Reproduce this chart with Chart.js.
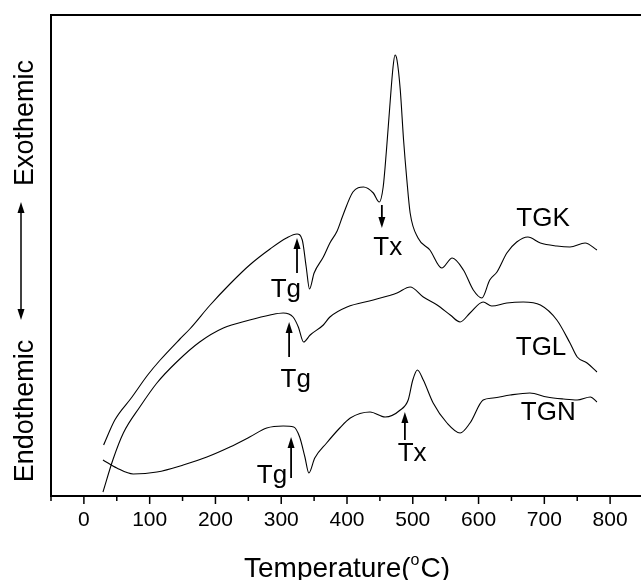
<!DOCTYPE html>
<html lang="en">
<head>
<meta charset="UTF-8">
<title>DTA curves TGK / TGL / TGN</title>
<script src="https://cdn.jsdelivr.net/npm/chart.js"></script>
<style>
  html, body { margin: 0; padding: 0; background: #fff; overflow: hidden; }
  #wrap { width: 645px; height: 580px; }
</style>
</head>
<body>
<div id="wrap"><canvas id="dta" width="645" height="580"></canvas></div>
<script>
// --- DATA ---
// signal is in arbitrary units (curves are stacked as in the figure)
const tgkTemp = [30, 47, 72, 97, 116, 146, 161, 192, 222, 252, 283, 308, 324, 332, 338, 343, 350, 364, 374, 385, 394, 409, 425, 440, 449, 455, 460, 465, 470, 473, 476, 481, 486, 491, 496, 508, 526, 544, 560, 577, 592, 605, 617, 628, 643, 658, 675, 694, 719, 739, 762, 780];
const tgkSignal = [51, 76, 98, 121, 136, 157, 167, 191, 212, 231, 247, 258, 262, 256, 229, 207, 223, 239, 253, 265, 281, 304, 309, 303, 294, 309, 346, 389, 429, 441, 436, 406, 356, 316, 283, 258, 246, 228, 238, 226, 206, 198, 216, 224, 243, 254, 259, 253, 250, 249, 253, 246];

const tglTemp = [29, 44, 60, 85, 111, 141, 176, 212, 252, 283, 303, 318, 326, 334, 344, 364, 374, 400, 440, 476, 496, 516, 537, 557, 572, 587, 607, 620, 643, 668, 694, 719, 739, 750, 765, 780];
const tglSignal = [4, 36, 63, 89, 113, 134, 154, 168, 176, 181, 183, 179, 169, 154, 161, 171, 179, 189, 196, 203, 209, 199, 191, 181, 174, 183, 194, 190, 193, 194, 191, 176, 153, 139, 133, 124];

const tgnTemp = [29, 50, 75, 111, 151, 187, 222, 252, 278, 303, 319, 328, 336, 342, 351, 369, 389, 405, 435, 458, 481, 493, 500, 507, 516, 531, 552, 572, 587, 607, 622, 648, 678, 704, 729, 750, 770, 780];
const tgnSignal = [36, 28, 22, 24, 31, 39, 49, 59, 68, 70, 69, 59, 39, 23, 38, 53, 68, 78, 84, 79, 86, 96, 116, 126, 116, 93, 73, 63, 73, 96, 98, 101, 103, 99, 97, 96, 99, 94];

const tickLabels = [0, 100, 200, 300, 400, 500, 600, 700, 800];
const minorTicks = [-50, 50, 150, 250, 350, 450, 550, 650, 750, 850];

// curve names and Tg / Tx marks, in data coordinates
const curveNames = [
  { text: 'TGK', t: 698, y: 270 },
  { text: 'TGL', t: 695, y: 141 },
  { text: 'TGN', t: 706, y: 76 }
];
const marks = [
  { text: 'Tg', t: 324, from: 223, to: 258, labelT: 307, labelY: 199 },
  { text: 'Tx', t: 453, from: 291, to: 268, labelT: 462, labelY: 241 },
  { text: 'Tg', t: 312, from: 139, to: 174, labelT: 322, labelY: 109 },
  { text: 'Tg', t: 315, from: 18, to: 59, labelT: 286, labelY: 13 },
  { text: 'Tx', t: 488, from: 56, to: 84, labelT: 499, labelY: 35 }
];

const FONT = '"Liberation Sans", Arial, Helvetica, sans-serif';

function toPoints(xs, ys) {
  return xs.map((x, i) => ({ x: x, y: ys[i] }));
}

function arrow(ctx, x, y1, y2) {
  const dir = y2 < y1 ? -1 : 1;
  ctx.beginPath();
  ctx.moveTo(x, y1);
  ctx.lineTo(x, y2 - dir * 8);
  ctx.stroke();
  ctx.beginPath();
  ctx.moveTo(x, y2);
  ctx.lineTo(x - 3.5, y2 - dir * 11);
  ctx.lineTo(x + 3.5, y2 - dir * 11);
  ctx.closePath();
  ctx.fill();
}

// frame, tick marks, titles and annotations
const decorations = {
  id: 'decorations',
  afterDatasetsDraw(chart) {
    const ctx = chart.ctx;
    const area = chart.chartArea;
    const xs = chart.scales.x;
    const ys = chart.scales.y;
    ctx.save();
    ctx.strokeStyle = '#000';
    ctx.fillStyle = '#000';

    // frame
    ctx.lineWidth = 2;
    ctx.strokeRect(area.left, area.top, area.right - area.left, area.bottom - area.top);

    // ticks below the axis
    ctx.lineWidth = 1.5;
    tickLabels.forEach(v => {
      const px = xs.getPixelForValue(v);
      ctx.beginPath(); ctx.moveTo(px, area.bottom); ctx.lineTo(px, area.bottom + 8); ctx.stroke();
    });
    minorTicks.forEach(v => {
      const px = xs.getPixelForValue(v);
      ctx.beginPath(); ctx.moveTo(px, area.bottom); ctx.lineTo(px, area.bottom + 5); ctx.stroke();
    });

    // x title, with a raised small "o" for the degree sign
    ctx.textBaseline = 'alphabetic';
    ctx.textAlign = 'left';
    const big = '28px ' + FONT, small = '16px ' + FONT;
    ctx.font = big;
    const w1 = ctx.measureText('Temperature(').width;
    const w3 = ctx.measureText('C)').width;
    ctx.font = small;
    const w2 = ctx.measureText('o').width + 1;
    let tx = 347 - (w1 + w2 + w3) / 2;
    ctx.font = big;
    ctx.fillText('Temperature(', tx, 577);
    ctx.font = small;
    ctx.fillText('o', tx + w1, 565);
    ctx.font = big;
    ctx.fillText('C)', tx + w1 + w2, 577);

    // y title: Endothemic <-> Exothemic
    ctx.textAlign = 'center';
    ctx.font = '27px ' + FONT;
    ctx.save();
    ctx.translate(33, 0);
    ctx.rotate(-Math.PI / 2);
    ctx.fillText('Exothemic', -123, 0);
    ctx.fillText('Endothemic', -411, 0);
    ctx.restore();
    ctx.lineWidth = 1.5;
    arrow(ctx, 21, 262, 202);
    arrow(ctx, 21, 262, 320);

    // curve names
    ctx.font = '26px ' + FONT;
    curveNames.forEach(c => {
      ctx.fillText(c.text, xs.getPixelForValue(c.t), ys.getPixelForValue(c.y));
    });

    // Tg / Tx marks
    ctx.lineWidth = 1.8;
    marks.forEach(m => {
      const px = xs.getPixelForValue(m.t);
      arrow(ctx, px, ys.getPixelForValue(m.from), ys.getPixelForValue(m.to));
      ctx.fillText(m.text, xs.getPixelForValue(m.labelT), ys.getPixelForValue(m.labelY));
    });
    ctx.restore();
  }
};

const lineStyle = {
  borderColor: '#000',
  borderWidth: 1.1,
  pointRadius: 0,
  fill: false,
  cubicInterpolationMode: 'monotone'
};

new Chart(document.getElementById('dta'), {
  type: 'line',
  data: {
    datasets: [
      Object.assign({ label: 'TGK', data: toPoints(tgkTemp, tgkSignal) }, lineStyle),
      Object.assign({ label: 'TGL', data: toPoints(tglTemp, tglSignal) }, lineStyle),
      Object.assign({ label: 'TGN', data: toPoints(tgnTemp, tgnSignal) }, lineStyle)
    ]
  },
  options: {
    responsive: false,
    animation: false,
    layout: { padding: { left: 51, top: 15, right: 2, bottom: 0 } },
    plugins: { legend: { display: false }, tooltip: { enabled: false } },
    scales: {
      x: {
        type: 'linear',
        min: -50,
        max: 850,
        afterBuildTicks: s => { s.ticks = tickLabels.map(v => ({ value: v })); },
        afterFit: s => { s.height = 84; },
        ticks: {
          autoSkip: false,
          maxRotation: 0,
          padding: 12,
          color: '#000',
          font: { family: FONT, size: 21 }
        },
        grid: { display: false, drawTicks: false },
        border: { display: false }
      },
      y: {
        display: false,
        min: 0,
        max: 481
      }
    }
  },
  plugins: [decorations]
});
</script>
</body>
</html>
